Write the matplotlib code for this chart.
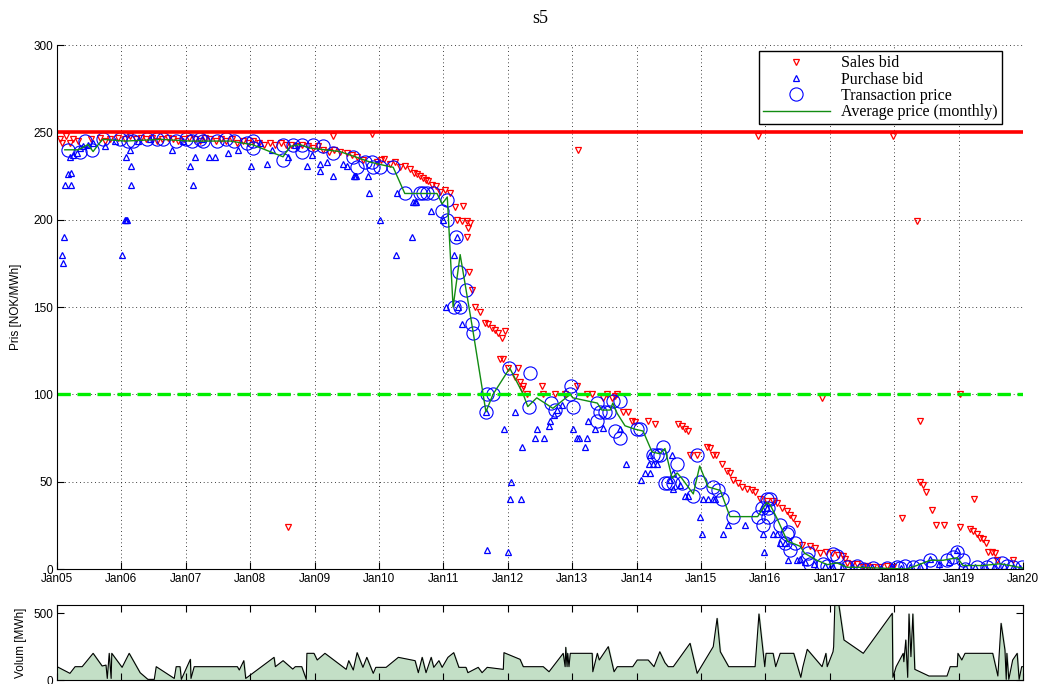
import numpy as np
import matplotlib.pyplot as plt

# sales bids (year, NOK/MWh)
sales_t = [2005.05, 2005.08, 2005.14, 2005.20, 2005.25, 2005.32, 2005.52, 2005.67, 2005.75, 2005.83,
           2005.95, 2006.05, 2006.14, 2006.22, 2006.30, 2006.38, 2006.47, 2006.55, 2006.63, 2006.72,
           2006.80, 2006.88, 2006.97, 2007.05, 2007.14, 2007.22, 2007.30, 2007.38, 2007.47, 2007.55,
           2007.63, 2007.72, 2007.80, 2007.88, 2007.97, 2008.05, 2008.14, 2008.22, 2008.30, 2008.38,
           2008.47, 2008.59, 2008.56, 2008.64, 2008.72, 2008.80, 2008.89, 2008.97, 2009.05, 2009.13,
           2009.29, 2009.22, 2009.30, 2009.39, 2009.50, 2009.58, 2009.66, 2009.75, 2009.89, 2009.97,
           2010.03, 2010.08, 2010.17, 2010.25, 2010.33, 2010.40, 2010.48, 2010.54, 2010.59, 2010.64,
           2010.68, 2010.73, 2010.76, 2010.82, 2010.89, 2010.95, 2011.02, 2011.10, 2011.18, 2011.21,
           2011.29, 2011.30, 2011.37, 2011.38, 2011.41, 2011.37, 2011.40, 2011.44, 2011.49, 2011.57,
           2011.65, 2011.69, 2011.75, 2011.80, 2011.85, 2011.91, 2011.96, 2011.88, 2011.93, 2012.00,
           2012.16, 2012.11, 2012.19, 2012.24, 2012.22, 2012.30, 2012.53, 2012.55, 2012.73, 2012.89,
           2013.07, 2013.09, 2013.23, 2013.31, 2013.48, 2013.54, 2013.62, 2013.66, 2013.70, 2013.79,
           2013.87, 2013.93, 2013.98, 2014.18, 2014.29, 2014.64, 2014.70, 2014.75, 2014.80, 2014.83,
           2014.94, 2015.09, 2015.14, 2015.19, 2015.23, 2015.33, 2015.40, 2015.45, 2015.50, 2015.57,
           2015.64, 2015.71, 2015.79, 2015.84, 2015.88, 2015.92, 2016.02, 2016.12, 2016.18, 2016.26,
           2016.34, 2016.38, 2016.43, 2016.49, 2016.57, 2016.69, 2016.77, 2016.85, 2016.88, 2016.94,
           2017.03, 2017.13, 2017.20, 2017.24, 2017.27, 2017.34, 2017.42, 2017.52, 2017.58, 2017.67,
           2017.78, 2017.89, 2017.98, 2017.98, 2018.12, 2018.35, 2018.40, 2018.40, 2018.45, 2018.49,
           2018.59, 2018.65, 2018.77, 2019.02, 2019.02, 2019.18, 2019.24, 2019.22, 2019.29, 2019.33,
           2019.38, 2019.43, 2019.46, 2019.52, 2019.57, 2019.60, 2019.84]
sales_p = [246, 244, 248, 244, 246, 245, 246, 247, 245, 246,
           247, 246, 248, 246, 247, 246, 247, 245, 246, 247,
           246, 245, 246, 247, 246, 245, 247, 246, 245, 246,
           245, 246, 244, 245, 244, 245, 244, 243, 244, 243,
           244, 24, 243, 243, 242, 243, 242, 241, 242, 240,
           248, 239, 240, 239, 238, 237, 236, 234, 249, 233,
           234, 235, 232, 233, 230, 231, 229, 227, 226, 225,
           224, 223, 222, 220, 219, 216, 217, 215, 207, 200,
           199, 208, 199, 195, 198, 190, 170, 160, 150, 147,
           141, 140, 138, 137, 135, 132, 136, 120, 120, 115,
           115, 110, 107, 105, 103, 100, 105, 100, 100, 100,
           105, 240, 100, 100, 98, 100, 98, 99, 100, 90,
           90, 85, 84, 85, 83, 83, 82, 80, 79, 65,
           65, 70, 69, 65, 65, 60, 56, 55, 51, 49,
           47, 46, 45, 44, 248, 40, 39, 39, 38, 35,
           33, 31, 29, 26, 14, 13, 12, 9, 98, 10,
           9, 8, 7.5, 6, 3.5, 3, 3, 1, 2, 1,
           1, 1.5, 248, 1, 29, 199, 85, 50, 48, 44,
           34, 25, 25, 100, 24, 23, 40, 22, 20, 18,
           17, 15, 10, 10, 9, 5, 5]

# purchase bids
buy_t = [2005.08, 2005.09, 2005.11, 2005.12, 2005.22, 2005.17, 2005.22, 2005.20, 2005.25, 2005.31,
         2005.36, 2005.40, 2005.48, 2005.56, 2005.75, 2005.90, 2006.01, 2006.06, 2006.07, 2006.08,
         2006.13, 2006.07, 2006.15, 2006.15, 2006.25, 2006.45, 2006.79, 2006.95, 2007.07, 2007.11,
         2007.14, 2007.25, 2007.36, 2007.45, 2007.66, 2007.81, 2008.01, 2008.15, 2008.26, 2008.34,
         2008.59, 2008.70, 2008.88, 2008.96, 2009.08, 2009.19, 2009.08, 2009.29, 2009.44, 2009.50,
         2009.61, 2009.63, 2009.65, 2009.83, 2009.84, 2010.02, 2010.26, 2010.28, 2010.51, 2010.53,
         2010.56, 2010.58, 2010.81, 2010.99, 2011.04, 2011.16, 2011.21, 2011.23, 2011.29, 2011.66,
         2011.68, 2011.94, 2012.00, 2012.03, 2012.05, 2012.11, 2012.22, 2012.20, 2012.42, 2012.45,
         2012.56, 2012.64, 2012.66, 2012.72, 2012.76, 2012.84, 2013.01, 2013.08, 2013.10, 2013.20,
         2013.23, 2013.25, 2013.35, 2013.48, 2013.74, 2013.84, 2014.07, 2014.13, 2014.19, 2014.21,
         2014.21, 2014.25, 2014.32, 2014.52, 2014.55, 2014.57, 2014.57, 2014.67, 2014.75, 2014.80,
         2014.98, 2015.02, 2015.03, 2015.11, 2015.19, 2015.22, 2015.34, 2015.42, 2015.68, 2015.95,
         2015.96, 2015.98, 2016.02, 2016.12, 2016.18, 2016.23, 2016.30, 2016.35, 2016.49, 2016.54,
         2016.62, 2016.75, 2016.92, 2017.05, 2017.20, 2017.35, 2017.50, 2017.65, 2017.80, 2017.95,
         2018.10, 2018.25, 2018.40, 2018.56, 2018.70, 2018.85, 2018.98, 2019.10, 2019.25, 2019.40,
         2019.55, 2019.70, 2019.85, 2019.95]
buy_p = [180, 175, 190, 220, 220, 226, 227, 236, 237, 238,
         241, 242, 243, 244, 242, 245, 180, 200, 200, 200,
         240, 236, 231, 220, 245, 246, 240, 245, 231, 220,
         236, 246, 236, 236, 238, 240, 231, 244, 232, 240,
         236, 243, 231, 237, 232, 233, 228, 225, 232, 231,
         225, 225, 225, 225, 215, 200, 180, 215, 190, 210,
         210, 210, 205, 200, 150, 180, 190, 150, 140, 90,
         11, 80, 10, 40, 50, 90, 70, 40, 75, 80,
         75, 82, 85, 88, 91, 94, 80, 75, 75, 70,
         75, 85, 80, 81, 80, 60, 51, 55, 60, 55,
         65, 60, 60, 51, 65, 55, 46, 48, 42, 42,
         30, 20, 40, 40, 40, 40, 20, 25, 25, 35,
         20, 10, 35, 20, 20, 15, 15, 5, 5, 6,
         4, 3, 2, 1, 2, 1, 0.5, 1, 0.5, 1,
         0.5, 1, 2, 6, 3, 4, 11, 1, 1, 2,
         1, 2, 1, 0.5]

# transaction prices
deal_t = [2005.17, 2005.36, 2005.43, 2005.54, 2005.71, 2005.98, 2006.10, 2006.18, 2006.40, 2006.55,
          2006.65, 2006.85, 2007.00, 2007.10, 2007.22, 2007.27, 2007.48, 2007.62, 2007.75, 2007.95,
          2008.04, 2008.04, 2008.51, 2008.51, 2008.66, 2008.80, 2008.80, 2008.98, 2009.13, 2009.29,
          2009.60, 2009.66, 2009.78, 2009.89, 2009.91, 2010.02, 2010.22, 2010.40, 2010.64, 2010.68,
          2010.75, 2010.84, 2010.98, 2011.06, 2011.06, 2011.16, 2011.20, 2011.24, 2011.26, 2011.35,
          2011.44, 2011.46, 2011.66, 2011.68, 2011.77, 2012.02, 2012.34, 2012.33, 2012.67, 2012.73,
          2012.98, 2012.97, 2013.01, 2013.39, 2013.39, 2013.43, 2013.51, 2013.57, 2013.63, 2013.74,
          2013.66, 2013.74, 2014.01, 2014.05, 2014.25, 2014.32, 2014.36, 2014.41, 2014.63, 2014.44,
          2014.49, 2014.57, 2014.70, 2014.88, 2014.94, 2014.98, 2015.19, 2015.26, 2015.33, 2015.50,
          2015.88, 2015.95, 2015.96, 2016.02, 2016.04, 2016.04, 2016.07, 2016.23, 2016.30, 2016.34,
          2016.35, 2016.38, 2016.46, 2016.65, 2016.66, 2016.69, 2016.89, 2016.96, 2017.05, 2017.11,
          2017.11, 2017.27, 2017.42, 2017.52, 2017.67, 2017.89, 2018.04, 2018.09, 2018.17, 2018.29,
          2018.40, 2018.56, 2018.60, 2018.82, 2018.91, 2018.98, 2019.07, 2019.10, 2019.29, 2019.44,
          2019.53, 2019.67, 2019.75, 2019.84, 2019.98]
deal_p = [240, 239, 245, 240, 246, 246, 245, 245, 246, 246,
          246, 245, 246, 245, 246, 245, 245, 246, 245, 244,
          245, 241, 243, 234, 243, 243, 239, 243, 242, 238,
          236, 230, 233, 233, 230, 230, 230, 215, 215, 215,
          215, 215, 205, 211, 200, 150, 190, 170, 150, 160,
          140, 135, 90, 100, 100, 115, 112, 93, 95, 91,
          105, 100, 93, 95, 85, 90, 90, 90, 96, 96,
          79, 75, 80, 80, 65, 65, 65, 70, 60, 49,
          49, 49, 49, 42, 65, 50, 47, 45, 40, 30,
          30, 35, 25, 40, 35, 30, 40, 25, 15, 20,
          21, 11, 15, 6, 9, 3, 3, 2, 8.6, 7.5,
          0, 1, 2, 0, 0.5, 0.5, 1, 0.5, 2, 1,
          2, 5, 2, 5, 7, 10, 5, 0, 1, 1,
          3, 3.5, 2, 1, 1]

# monthly average price
avg_t = [2005.12, 2005.33, 2005.48, 2005.56, 2005.64, 2005.71, 2006.06, 2006.60, 2007.07, 2007.69,
         2008.03, 2008.51, 2008.62, 2008.77, 2008.93, 2009.39, 2009.63, 2009.86, 2010.09, 2010.22,
         2010.40, 2010.90, 2010.98, 2011.06, 2011.15, 2011.26, 2011.46, 2011.66, 2011.77, 2012.03,
         2012.24, 2012.31, 2012.45, 2012.70, 2012.97, 2013.01, 2013.39, 2013.46, 2013.59, 2013.63,
         2013.70, 2013.82, 2013.98, 2014.10, 2014.24, 2014.36, 2014.44, 2014.55, 2014.63, 2014.70,
         2014.88, 2014.98, 2015.11, 2015.30, 2015.45, 2015.88, 2016.02, 2016.07, 2016.18, 2016.34,
         2016.54, 2016.61, 2016.80, 2016.96, 2017.11, 2017.27, 2017.47, 2017.78, 2018.20, 2018.35,
         2018.56, 2018.76, 2018.98, 2019.07, 2019.38, 2019.64, 2019.80, 2020.00]
avg_p = [240, 240, 243, 239, 243, 246, 245, 246, 245, 245,
         243, 236, 242, 243, 241, 239, 236, 233, 231, 230,
         215, 215, 209, 213, 150, 180, 136, 90, 100, 115,
         100, 93, 98, 92, 100, 98, 95, 91, 91, 95,
         89, 82, 80, 79, 67, 66, 69, 52, 55, 52,
         43, 59, 47, 45, 30, 30, 38, 37, 29, 16,
         13, 9, 5, 2.5, 3.5, 1, 1, 0.5, 0, 2,
         5, 5, 6.5, 2, 2, 3, 2, 0.5]

# traded volume
vol_t = [2005.00, 2005.20, 2005.28, 2005.39, 2005.56, 2005.70, 2005.76, 2005.78, 2005.81, 2005.84,
         2005.85, 2006.01, 2006.12, 2006.29, 2006.41, 2006.51, 2006.54, 2006.82, 2006.85, 2006.91,
         2006.93, 2007.07, 2007.08, 2007.13, 2007.80, 2007.83, 2007.90, 2007.93, 2008.37, 2008.39,
         2008.51, 2008.66, 2008.70, 2008.80, 2008.87, 2008.88, 2008.99, 2009.04, 2009.16, 2009.49,
         2009.53, 2009.60, 2009.66, 2009.75, 2009.81, 2009.91, 2009.95, 2010.11, 2010.30, 2010.56,
         2010.61, 2010.67, 2010.73, 2010.81, 2010.85, 2010.93, 2010.98, 2011.07, 2011.16, 2011.24,
         2011.35, 2011.38, 2011.54, 2011.60, 2011.68, 2011.93, 2011.94, 2012.19, 2012.24, 2012.55,
         2012.64, 2012.86, 2012.89, 2012.90, 2012.92, 2012.93, 2012.95, 2012.97, 2013.31, 2013.32,
         2013.39, 2013.42, 2013.56, 2013.65, 2013.70, 2013.94, 2014.01, 2014.18, 2014.27, 2014.36,
         2014.44, 2014.49, 2014.57, 2014.83, 2014.94, 2015.19, 2015.25, 2015.30, 2015.43, 2015.84,
         2015.90, 2015.99, 2016.01, 2016.12, 2016.16, 2016.23, 2016.44, 2016.55, 2016.58, 2016.65,
         2016.88, 2016.94, 2016.96, 2017.05, 2017.06, 2017.08, 2017.13, 2017.22, 2017.52, 2017.97,
         2017.98, 2018.03, 2018.14, 2018.15, 2018.18, 2018.21, 2018.23, 2018.26, 2018.29, 2018.32,
         2018.54, 2018.82, 2018.87, 2018.98, 2018.99, 2019.05, 2019.10, 2019.53, 2019.61, 2019.66,
         2019.72, 2019.74, 2019.75, 2019.78, 2019.84, 2019.91, 2019.94, 2019.98, 2020.00]
vol_v = [100, 50, 100, 100, 200, 105, 112, 12, 200, 12,
         200, 95, 200, 55, 5, 5, 100, 12, 100, 100,
         5, 155, 12, 100, 100, 75, 145, 12, 170, 100,
         145, 82, 100, 100, 5, 200, 200, 150, 200, 80,
         145, 75, 205, 95, 170, 50, 95, 95, 170, 145,
         55, 170, 55, 170, 95, 145, 95, 170, 205, 95,
         95, 55, 95, 55, 95, 80, 205, 155, 100, 100,
         62, 200, 100, 245, 100, 200, 100, 200, 200, 62,
         200, 150, 250, 62, 100, 100, 150, 150, 100, 212,
         130, 100, 100, 275, 50, 250, 462, 212, 100, 100,
         495, 100, 200, 200, 100, 200, 200, 20, 95, 230,
         100, 200, 100, 212, 250, 600, 600, 300, 200, 500,
         20, 100, 200, 137, 300, 20, 495, 175, 495, 80,
         30, 30, 100, 100, 200, 150, 200, 200, 30, 425,
         225, 5, 200, 5, 150, 200, 5, 100, 100]

years = list(range(2005, 2021))
year_labels = ['Jan%02d' % (y % 100) for y in years]

sans = ['Liberation Sans', 'DejaVu Sans']
serif = ['Liberation Serif', 'DejaVu Serif']
plt.rcParams['font.family'] = sans

fig = plt.figure(figsize=(10.43, 6.84), dpi=100)
ax = fig.add_axes([0.0547, 0.1681, 0.9261, 0.7661])
ax2 = fig.add_axes([0.0547, 0.0058, 0.9261, 0.1097])

ax.plot(sales_t, sales_p, 'v', color='red', mfc='none', ms=4.8, mew=0.9, label='Sales bid')
ax.plot(buy_t, buy_p, '^', color='blue', mfc='none', ms=4.8, mew=0.9, label='Purchase bid')
ax.plot(deal_t, deal_p, 'o', color='blue', mfc='none', ms=9.5, mew=0.8, label='Transaction price')
ax.plot(avg_t, avg_p, '-', color='#128c12', lw=1.0, label='Average price (monthly)')
ax.axhline(250, color='red', lw=2.6)
ax.axhline(100, color='#00ee00', lw=2.4, dashes=(4, 2))

ax.set_xlim(2005, 2020)
ax.set_ylim(0, 300)
ax.set_xticks(years)
ax.set_xticklabels(year_labels)
ax.set_yticks(range(0, 301, 50))
ax.tick_params(direction='in', length=5, labelsize=8.5, pad=3)
ax.grid(True, color='black', linestyle=(0, (1, 3.5)), lw=0.6)
for s in ['top', 'right']:
    ax.spines[s].set_visible(False)
ax.set_ylabel('Pris [NOK/MWh]', fontsize=8.5, labelpad=8)
ax.set_title('s5', fontsize=13, family=serif, pad=16)

leg = ax.legend(loc='upper right', bbox_to_anchor=(0.978, 0.988), prop={'family': serif, 'size': 11.5},
                fancybox=False, framealpha=1, edgecolor='black', labelspacing=0.02,
                handlelength=4.2, borderpad=0.25, handletextpad=0.7, borderaxespad=0)
leg.get_frame().set_linewidth(1.0)

ax2.fill_between(vol_t, vol_v, color='#c3dfc6')
ax2.plot(vol_t, vol_v, color='black', lw=0.8)
ax2.set_xlim(2005, 2020)
ax2.set_ylim(0, 562)
ax2.set_xticks(years)
ax2.set_xticklabels([])
ax2.set_yticks([0, 500])
ax2.tick_params(direction='in', length=5, labelsize=8.5, top=True, right=True, pad=3)
ax2.set_ylabel('Volum [MWh]', fontsize=8.5, labelpad=4)

fig.savefig('out.png', dpi=100)
